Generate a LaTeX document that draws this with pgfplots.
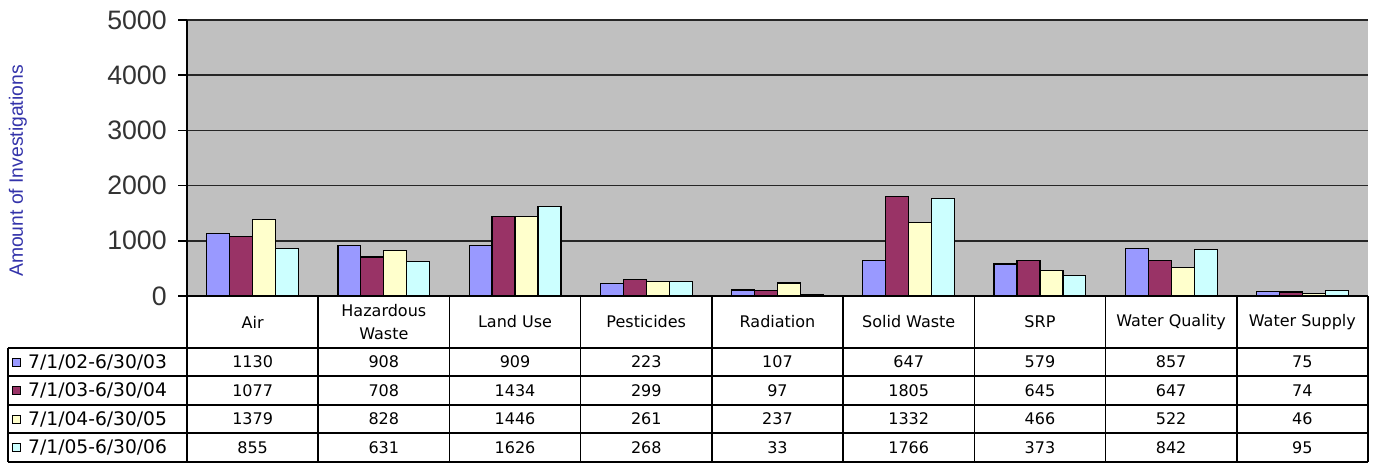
\documentclass[border=0pt]{standalone}
\usepackage{pgfplots}
\pgfplotsset{compat=1.18}
\usepackage{pgfplotstable}
\usepackage{fontspec}
\setmainfont{Liberation Sans}
\newfontfamily\tabfont{DejaVu Sans}

\definecolor{sA}{HTML}{9999FF}
\definecolor{sB}{HTML}{993366}
\definecolor{sC}{HTML}{FFFFCC}
\definecolor{sD}{HTML}{CCFFFF}
\definecolor{bggray}{HTML}{C0C0C0}
\definecolor{labblue}{HTML}{3333AA}

% categories 0..8, one column per period
\pgfplotstableread{
x a b c d
0 1130 1077 1379 855
1 908 708 828 631
2 909 1434 1446 1626
3 223 299 261 268
4 107 97 237 33
5 647 1805 1332 1766
6 579 645 466 373
7 857 647 522 842
8 75 74 46 95
}\data

\begin{document}
\begin{tikzpicture}
\begin{axis}[
  scale only axis, width=885.75pt, height=207pt,
  xmin=-0.5, xmax=8.5, ymin=0, ymax=5000,
  ytick={0,1000,2000,3000,4000,5000}, xtick=\empty,
  scaled y ticks=false,
  /pgf/number format/1000 sep={},
  /pgf/number format/assume math mode=true,
  axis y line*=left, axis x line*=bottom,
  axis line style={black, line width=1.3pt},
  axis background/.style={fill=bggray},
  ymajorgrids, major grid style={black!85, line width=1.3pt},
  tick align=outside, major tick length=6.75pt,
  ytick style={black, line width=1.3pt},
  yticklabel style={font=\fontsize{20}{22}\selectfont, text=black!80, xshift=-5pt},
  ybar=0pt, bar width=0.175,
  clip=false,
  every axis plot/.append style={draw=black, line width=0.9pt},
]
\addplot[fill=sA, bar shift=-0.2625] table[x=x, y=a] {\data};
\addplot[fill=sB, bar shift=-0.0875] table[x=x, y=b] {\data};
\addplot[fill=sC, bar shift=0.0875] table[x=x, y=c] {\data};
\addplot[fill=sD, bar shift=0.2625] table[x=x, y=d] {\data};
\coordinate (O) at (rel axis cs:0,0);
\end{axis}

% data table under the plot, in pixel units of the reference
\begin{scope}[shift={(O)}, xshift=-140.25pt, yshift=222pt, x=0.75pt, y=-0.75pt, line width=1.2pt]
  \path (0,0) rectangle (1373,464);
  \node[rotate=90, text=labblue, font=\fontsize{14.5}{16}\selectfont] at (18,171) {Amount of Investigations};
  \foreach \i in {0,...,9}
    \draw ({187+131.22*\i},296) -- ({187+131.22*\i},462);
  \foreach \Y in {348,376,405,433,462}
    \draw (8,\Y) -- (1368,\Y);
  \draw (8,348) -- (8,462);
  \foreach \i/\name in {0/Air, 1/{Hazardous\\Waste}, 2/Land Use, 3/Pesticides, 4/Radiation,
                        5/Solid Waste, 6/SRP, 7/Water Quality, 8/Water Supply}
    \node[align=center, font=\tabfont\fontsize{12}{17}\selectfont] at ({187+131.22*(\i+0.5)},322) {\name};
  \foreach \col/\Y in {a/362, b/390.5, c/419, d/447.5}
    \foreach \i in {0,...,8} {
      \pgfplotstablegetelem{\i}{\col}\of\data
      \node[font=\tabfont\fontsize{12}{14}\selectfont] at ({187+131.22*(\i+0.5)},\Y) {\pgfplotsretval};
    }
  \foreach \c/\Y in {sA/362, sB/390.5, sC/419, sD/447.5}
    \filldraw[fill=\c, draw=black, line width=0.6pt] (12,\Y-4) rectangle (20,\Y+4);
  \node[anchor=west, font=\tabfont\fontsize{14}{16}\selectfont] at (23,362) {7/1/02-6/30/03};
  \node[anchor=west, font=\tabfont\fontsize{14}{16}\selectfont] at (23,390.5) {7/1/03-6/30/04};
  \node[anchor=west, font=\tabfont\fontsize{14}{16}\selectfont] at (23,419) {7/1/04-6/30/05};
  \node[anchor=west, font=\tabfont\fontsize{14}{16}\selectfont] at (23,447.5) {7/1/05-6/30/06};
\end{scope}
\end{tikzpicture}
\end{document}
